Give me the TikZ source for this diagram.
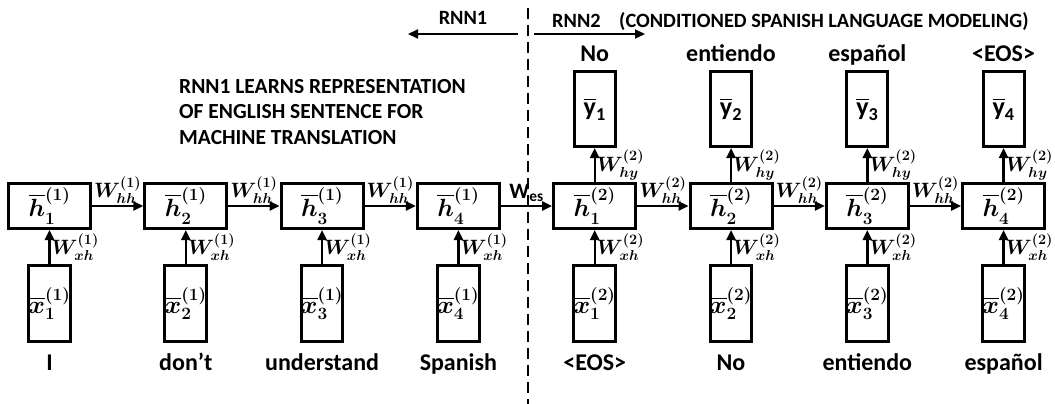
\documentclass[tikz,border=0pt]{standalone}
\usepackage{fontspec}
\setmainfont{Carlito}
\usepackage{amsmath, amssymb}
\usetikzlibrary{arrows.meta, positioning}

\tikzset{
  cell/.style={draw, line width=3pt, minimum width=82pt, minimum height=45pt, inner sep=0pt, font=\fontsize{27}{29}\selectfont},
  inbox/.style={draw, line width=3pt, minimum width=41pt, minimum height=76pt, inner sep=0pt, font=\fontsize{25}{27}\selectfont},
  outbox/.style={draw, line width=3pt, minimum width=41pt, minimum height=75pt, inner sep=0pt, font=\bfseries\fontsize{26}{28}\selectfont},
  link/.style={line width=2.4pt, -{Triangle[length=10pt, width=9pt]}},
  wlabel/.style={font=\fontsize{20}{22}\selectfont, inner sep=1pt},
  word/.style={font=\bfseries\fontsize{24}{26}\selectfont, text height=16pt, text depth=5pt, inner sep=0pt},
  head/.style={font=\bfseries\fontsize{20.3}{22}\selectfont, inner sep=0pt},
}

\begin{document}
\begin{tikzpicture}[x=1pt, y=-1pt]
  \useasboundingbox (0,0) rectangle (1055,404);

  % RNN1 (English encoder)
  \node[cell] (eh1) at (49.5,206) {$\boldsymbol{\overline{h}_1^{(1)}}$};
  \node[cell] (eh2) at (185.8,206) {$\boldsymbol{\overline{h}_2^{(1)}}$};
  \node[cell] (eh3) at (322.1,206) {$\boldsymbol{\overline{h}_3^{(1)}}$};
  \node[cell] (eh4) at (458.4,206) {$\boldsymbol{\overline{h}_4^{(1)}}$};

  \node[inbox, below=34pt of eh1] (ex1) {$\boldsymbol{\overline{x}_1^{(1)}}$};
  \node[inbox, below=34pt of eh2] (ex2) {$\boldsymbol{\overline{x}_2^{(1)}}$};
  \node[inbox, below=34pt of eh3] (ex3) {$\boldsymbol{\overline{x}_3^{(1)}}$};
  \node[inbox, below=34pt of eh4] (ex4) {$\boldsymbol{\overline{x}_4^{(1)}}$};

  \node[word, below=11pt of ex1] (ew1) {I};
  \node[word, below=11pt of ex2] (ew2) {don’t};
  \node[word, below=11pt of ex3] (ew3) {understand};
  \node[word, below=11pt of ex4] (ew4) {Spanish};

  % RNN2 (Spanish decoder)
  \node[cell] (sh1) at (594.7,206) {$\boldsymbol{\overline{h}_1^{(2)}}$};
  \node[cell] (sh2) at (731.0,206) {$\boldsymbol{\overline{h}_2^{(2)}}$};
  \node[cell] (sh3) at (867.3,206) {$\boldsymbol{\overline{h}_3^{(2)}}$};
  \node[cell] (sh4) at (1003.6,206) {$\boldsymbol{\overline{h}_4^{(2)}}$};

  \node[inbox, below=34pt of sh1] (sx1) {$\boldsymbol{\overline{x}_1^{(2)}}$};
  \node[inbox, below=34pt of sh2] (sx2) {$\boldsymbol{\overline{x}_2^{(2)}}$};
  \node[inbox, below=34pt of sh3] (sx3) {$\boldsymbol{\overline{x}_3^{(2)}}$};
  \node[inbox, below=34pt of sh4] (sx4) {$\boldsymbol{\overline{x}_4^{(2)}}$};

  \node[word, below=11pt of sx1] (sw1) {<EOS>};
  \node[word, below=11pt of sx2] (sw2) {No};
  \node[word, below=11pt of sx3] (sw3) {entiendo};
  \node[word, below=11pt of sx4] (sw4) {español};

  \node[outbox, above=34pt of sh1] (sy1) {$\overline{\text{y}}_{\text{1}}$};
  \node[outbox, above=34pt of sh2] (sy2) {$\overline{\text{y}}_{\text{2}}$};
  \node[outbox, above=34pt of sh3] (sy3) {$\overline{\text{y}}_{\text{3}}$};
  \node[outbox, above=34pt of sh4] (sy4) {$\overline{\text{y}}_{\text{4}}$};

  \node[word, above=3pt of sy1] (so1) {No};
  \node[word, above=3pt of sy2] (so2) {entiendo};
  \node[word, above=3pt of sy3] (so3) {español};
  \node[word, above=3pt of sy4] (so4) {<EOS>};

  % recurrent links
  \draw[link] (eh1) -- node[wlabel, above] {$\boldsymbol{W_{hh}^{(1)}}$} (eh2);
  \draw[link] (eh2) -- node[wlabel, above] {$\boldsymbol{W_{hh}^{(1)}}$} (eh3);
  \draw[link] (eh3) -- node[wlabel, above] {$\boldsymbol{W_{hh}^{(1)}}$} (eh4);
  \draw[link] (eh4) -- node[head, above=3pt, font=\bfseries\fontsize{22}{24}\selectfont] {W\textsubscript{es}} (sh1);
  \draw[link] (sh1) -- node[wlabel, above] {$\boldsymbol{W_{hh}^{(2)}}$} (sh2);
  \draw[link] (sh2) -- node[wlabel, above] {$\boldsymbol{W_{hh}^{(2)}}$} (sh3);
  \draw[link] (sh3) -- node[wlabel, above] {$\boldsymbol{W_{hh}^{(2)}}$} (sh4);

  % input links
  \draw[link] (ex1) -- node[wlabel, right] {$\boldsymbol{W_{xh}^{(1)}}$} (eh1);
  \draw[link] (ex2) -- node[wlabel, right] {$\boldsymbol{W_{xh}^{(1)}}$} (eh2);
  \draw[link] (ex3) -- node[wlabel, right] {$\boldsymbol{W_{xh}^{(1)}}$} (eh3);
  \draw[link] (ex4) -- node[wlabel, right] {$\boldsymbol{W_{xh}^{(1)}}$} (eh4);
  \draw[link] (sx1) -- node[wlabel, right] {$\boldsymbol{W_{xh}^{(2)}}$} (sh1);
  \draw[link] (sx2) -- node[wlabel, right] {$\boldsymbol{W_{xh}^{(2)}}$} (sh2);
  \draw[link] (sx3) -- node[wlabel, right] {$\boldsymbol{W_{xh}^{(2)}}$} (sh3);
  \draw[link] (sx4) -- node[wlabel, right] {$\boldsymbol{W_{xh}^{(2)}}$} (sh4);

  % output links
  \draw[link] (sh1) -- node[wlabel, right] {$\boldsymbol{W_{hy}^{(2)}}$} (sy1);
  \draw[link] (sh2) -- node[wlabel, right] {$\boldsymbol{W_{hy}^{(2)}}$} (sy2);
  \draw[link] (sh3) -- node[wlabel, right] {$\boldsymbol{W_{hy}^{(2)}}$} (sy3);
  \draw[link] (sh4) -- node[wlabel, right] {$\boldsymbol{W_{hy}^{(2)}}$} (sy4);

  % split between the two networks
  \coordinate (cuttop) at (528,8);
  \coordinate (cutbot) at (528,404);
  \draw[line width=1.5pt, dash pattern=on 11pt off 6pt] (cuttop) -- (cutbot);

  \coordinate (leftfrom) at (518,34);
  \coordinate (leftto) at (408,34);
  \coordinate (rightfrom) at (534,34);
  \coordinate (rightto) at (645,34);
  \draw[link, line width=2pt] (leftfrom) -- node[head, above=8pt] {RNN1} (leftto);
  \draw[link, line width=2pt] (rightfrom) -- (rightto);
  \node[head, anchor=base west] (rnn2) at (552,28) {RNN2};
  \node[head, anchor=base west] (cond) at (619,28) {(CONDITIONED SPANISH LANGUAGE MODELING)};

  \node[head, anchor=base west, align=left, font=\bfseries\fontsize{21.5}{25.5}\selectfont] (note) at (179,144)
    {RNN1 LEARNS REPRESENTATION\\OF ENGLISH SENTENCE FOR\\MACHINE TRANSLATION};
\end{tikzpicture}
\end{document}
